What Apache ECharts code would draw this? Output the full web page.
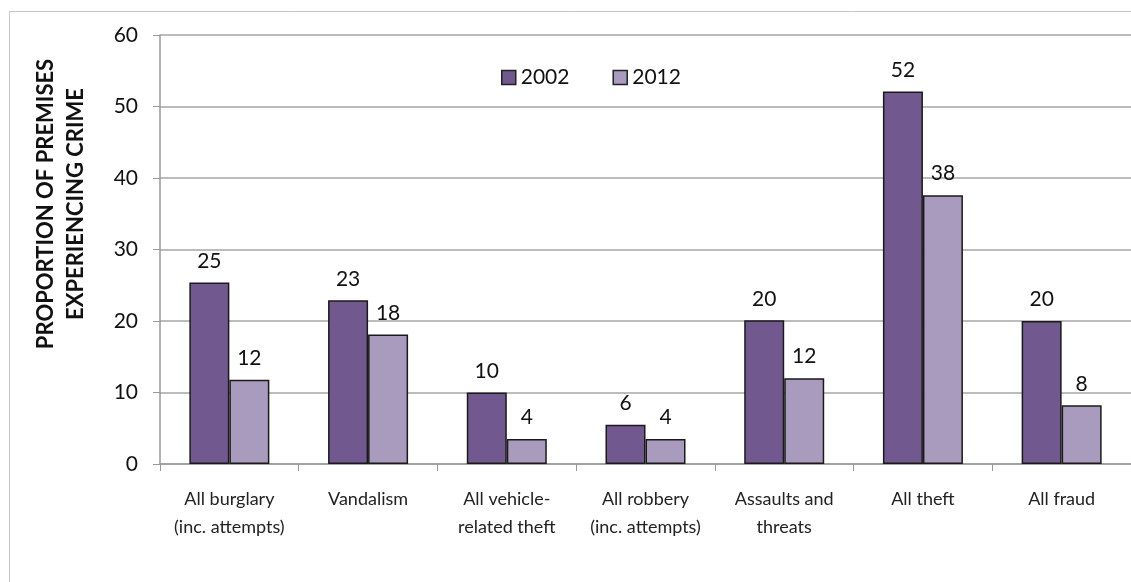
<!DOCTYPE html>
<html>
<head>
<meta charset="utf-8">
<script src="https://cdn.jsdelivr.net/npm/echarts@6/dist/echarts.min.js"></script>
<style>
  html, body { margin: 0; padding: 0; background: #fff; }
  #chart { width: 1131px; height: 582px; }
</style>
</head>
<body>
<div id="chart"></div>
<script>
const categories = [
  'All burglary\n(inc. attempts)',
  'Vandalism',
  'All vehicle-\nrelated theft',
  'All robbery\n(inc. attempts)',
  'Assaults and\nthreats',
  'All theft',
  'All fraud'
]
const values2002 = [25.4, 22.9, 10.0, 5.5, 20.1, 52.1, 20.0]
const values2012 = [11.8, 18.1, 3.5, 3.5, 12.0, 37.6, 8.2]
const yTicks = [0, 10, 20, 30, 40, 50, 60]
const yTitle = 'PROPORTION OF PREMISES\nEXPERIENCING CRIME'

const FONT = 'Lato, "Open Sans", sans-serif'
const COLOR_2002 = '#71588f'
const COLOR_2012 = '#a99bbd'

const chart = echarts.init(document.getElementById('chart'), null, { renderer: 'canvas' })

const labelStyle = {
  show: true,
  position: 'top',
  distance: 11,
  color: '#111',
  fontSize: 21,
  fontFamily: FONT,
  formatter: (p) => String(Math.round(p.value))
}

chart.setOption({
  backgroundColor: '#fff',
  animation: false,
  graphic: [
    {
      type: 'rect',
      shape: { x: 9.5, y: 11.5, width: 1200, height: 700 },
      style: { fill: 'none', stroke: '#c4c4c4', lineWidth: 1 },
      silent: true
    },
    {
      // axis title sits above the axis middle in the original, so place it by hand
      type: 'text',
      x: 61,
      y: 204,
      rotation: Math.PI / 2,
      style: {
        text: yTitle,
        fontSize: 22,
        fontWeight: 'bold',
        fontFamily: FONT,
        fill: '#111',
        lineHeight: 30,
        align: 'center',
        verticalAlign: 'middle'
      },
      silent: true
    }
  ],
  legend: {
    top: 62,
    left: 496,
    itemWidth: 14,
    itemHeight: 14,
    itemGap: 43,
    icon: 'rect',
    textStyle: { fontSize: 21, fontFamily: FONT, color: '#111' },
    itemStyle: { borderColor: '#222', borderWidth: 1.5 }
  },
  grid: { left: 160, top: 35, width: 977, height: 429, containLabel: false },
  xAxis: {
    type: 'category',
    data: categories,
    axisLine: { lineStyle: { color: '#999', width: 1.5 } },
    axisTick: { show: true, length: 7, alignWithLabel: false, lineStyle: { color: '#999' } },
    axisLabel: {
      interval: 0,
      margin: 21,
      color: '#222',
      fontSize: 18,
      lineHeight: 28,
      fontFamily: FONT
    }
  },
  yAxis: {
    type: 'value',
    min: 0,
    max: yTicks[yTicks.length - 1],
    interval: yTicks[1] - yTicks[0],
    axisLine: { show: true, lineStyle: { color: '#999', width: 1.5 } },
    axisTick: { show: true, length: 7, lineStyle: { color: '#999' } },
    axisLabel: { margin: 22, color: '#111', fontSize: 21, fontFamily: FONT },
    splitLine: { show: true, lineStyle: { color: '#a6a6a6', width: 1.5 } }
  },
  series: [
    {
      name: '2002',
      type: 'bar',
      data: values2002,
      barWidth: 40,
      barGap: '0%',
      itemStyle: { color: COLOR_2002, borderColor: '#1a1a1a', borderWidth: 1.5 },
      label: labelStyle
    },
    {
      name: '2012',
      type: 'bar',
      data: values2012,
      barWidth: 40,
      itemStyle: { color: COLOR_2012, borderColor: '#1a1a1a', borderWidth: 1.5 },
      label: labelStyle
    }
  ]
})
</script>
</body>
</html>
